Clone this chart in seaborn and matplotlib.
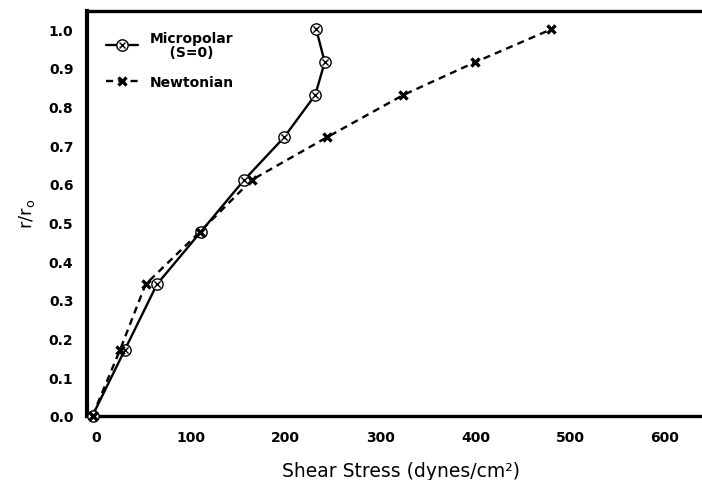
import matplotlib
matplotlib.use("Agg")
import matplotlib.pyplot as plt
import seaborn as sns
import pandas as pd
from matplotlib.lines import Line2D

# ---- data ----
r_ratio = [0.0, 0.17, 0.34, 0.475, 0.61, 0.72, 0.83, 0.915, 1.0]
micropolar = [-4, 30, 64, 110, 156, 198, 231, 241, 232]
newtonian = [-4, 25, 52, 109, 164, 243, 324, 400, 480]
x_ticks = [0, 100, 200, 300, 400, 500, 600]
y_ticks = [0.0, 0.1, 0.2, 0.3, 0.4, 0.5, 0.6, 0.7, 0.8, 0.9, 1.0]
series_labels = ["Micropolar\n    (S=0)", "Newtonian"]

sns.set_style("white")
plt.rcParams["font.family"] = ["DejaVu Sans"]
plt.rcParams["text.color"] = "black"
plt.rcParams["axes.labelcolor"] = "black"

df_m = pd.DataFrame({"tau": micropolar, "r": r_ratio})
df_n = pd.DataFrame({"tau": newtonian, "r": r_ratio})

fig = plt.figure(figsize=(7.02, 4.81), dpi=100)
ax = fig.add_axes([0.1234, 0.1337, 1.0 - 0.1234, 0.9757 - 0.1337])

DASH = (0, (3, 2.2))
LW = 1.7

# lines
sns.lineplot(data=df_m, x="tau", y="r", sort=False, estimator=None, ax=ax,
             color="black", linewidth=LW, clip_on=False)
sns.lineplot(data=df_n, x="tau", y="r", sort=False, estimator=None, ax=ax,
             color="black", linewidth=LW, linestyle=DASH, clip_on=False)

# markers: micropolar = circle with x inside, newtonian = bold x
sns.scatterplot(data=df_m, x="tau", y="r", ax=ax, marker="o", s=66,
                facecolor="white", edgecolor="black", linewidth=1.0,
                zorder=5, clip_on=False)
sns.scatterplot(data=df_m, x="tau", y="r", ax=ax, marker="x", s=20,
                color="black", linewidth=1.0, zorder=6, clip_on=False)
sns.scatterplot(data=df_n, x="tau", y="r", ax=ax, marker="x", s=34,
                color="black", linewidth=2.4, zorder=6, clip_on=False)

ax.set_xlim(-10.2, 639)
ax.set_ylim(0, 1.048)
ax.set_xticks(x_ticks)
ax.set_yticks(y_ticks)
ax.set_xticklabels([str(v) for v in x_ticks])
ax.set_yticklabels([f"{v:.1f}" for v in y_ticks])

for s in ["top", "bottom"]:
    ax.spines[s].set_linewidth(2.4)
    ax.spines[s].set_color("black")
ax.spines["left"].set_linewidth(3.0)
ax.spines["left"].set_color("black")
ax.spines["right"].set_visible(False)

ax.tick_params(axis="both", direction="out", width=1.0,
               colors="black", labelsize=10)
ax.tick_params(axis="x", length=4.3, pad=6)
ax.tick_params(axis="y", length=5.0, pad=4.5)
for lab in ax.get_xticklabels() + ax.get_yticklabels():
    lab.set_fontweight("bold")

ax.set_xlabel("Shear Stress (dynes/cm²)", fontsize=13.5, color="black")
ax.set_ylabel(r"r/r$_{\mathrm{o}}$", fontsize=13, color="black")
ax.xaxis.set_label_coords(0.511, -0.112)
ax.yaxis.set_label_coords(-0.080, 0.5)

h_m = (Line2D([], [], color="black", linewidth=LW, marker="o", markersize=8.2,
              markerfacecolor="white", markeredgecolor="black",
              markeredgewidth=1.0),
       Line2D([], [], linestyle="none", marker="x", markersize=4.5,
              color="black", markeredgewidth=1.0))
h_n = Line2D([], [], color="black", linewidth=LW, linestyle=DASH, marker="x",
             markersize=5.8, markeredgewidth=2.4)
leg = ax.legend([h_m, h_n], series_labels, loc="upper left",
                bbox_to_anchor=(0.020, 0.968), frameon=False, borderpad=0,
                handlelength=2.3, handletextpad=0.85, labelspacing=1.15,
                prop={"size": 10, "weight": "bold"})
leg.get_texts()[0].set_linespacing(1.0)

fig.savefig("out.png", dpi=100)
